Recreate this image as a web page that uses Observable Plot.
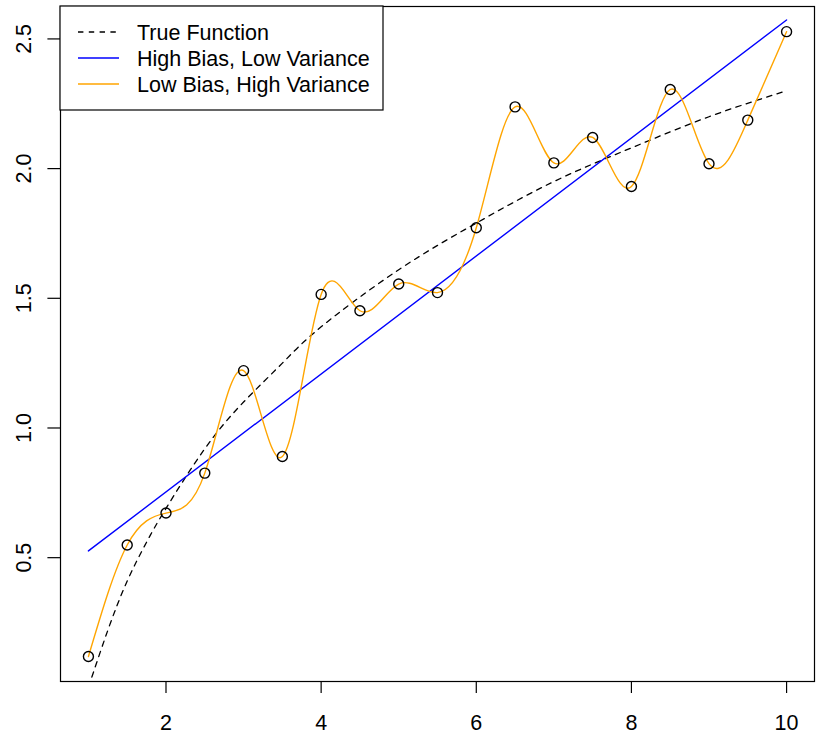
<!DOCTYPE html>
<html>
<head>
<meta charset="utf-8">
<script src="https://cdn.jsdelivr.net/npm/d3@7"></script>
<script src="https://cdn.jsdelivr.net/npm/@observablehq/plot@0.6"></script>
<style>
  html, body { margin: 0; padding: 0; background: #fff; }
  #chart svg { display: block; }
</style>
</head>
<body>
<div id="chart"></div>
<script>
// Observed points
const pointX = [1, 1.5, 2, 2.5, 3, 3.5, 4, 4.5, 5, 5.5, 6, 6.5, 7, 7.5, 8, 8.5, 9, 9.5, 10];
const pointY = [0.119, 0.549, 0.672, 0.826, 1.221, 0.890, 1.515, 1.452, 1.555, 1.522, 1.772, 2.238, 2.022, 2.120, 1.931, 2.305, 2.019, 2.187, 2.528];

// True function (dashed)
const trueX = [1, 1.25, 1.5, 1.75, 2, 2.5, 3, 3.5, 4, 5, 6, 7, 8, 9, 10];
const trueY = [0.00, 0.22, 0.41, 0.56, 0.69, 0.92, 1.10, 1.25, 1.39, 1.61, 1.79, 1.95, 2.08, 2.20, 2.30];

// High bias, low variance (straight line)
const linX = [1, 10];
const linY = [0.526, 2.573];

const xTicks = [2, 4, 6, 8, 10];
const yTicks = [0.5, 1.0, 1.5, 2.0, 2.5];

const legendLabels = ["True Function", "High Bias, Low Variance", "Low Bias, High Variance"];
const legendColors = ["black", "blue", "orange"];
const legendDash = ["5.4,5.4", null, null];

const points = pointX.map((x, i) => ({x, y: pointY[i]}));
const truth = trueX.map((x, i) => ({x, y: trueY[i]}));
const lin = linX.map((x, i) => ({x, y: linY[i]}));

const font = "'Liberation Sans', Arial, Helvetica, sans-serif";

const chart = Plot.plot({
  width: 817,
  height: 740,
  marginLeft: 60,
  marginRight: 3,
  marginTop: 6,
  marginBottom: 59,
  style: {fontFamily: font, fontSize: "21.5px", color: "black", background: "white"},
  x: {domain: [0.64, 10.36]},
  y: {domain: [0.0226, 2.625]},
  marks: [
    Plot.line(truth, {x: "x", y: "y", curve: "natural", stroke: "black", strokeWidth: 1.3, strokeDasharray: "5.4,5.4", clip: true}),
    Plot.line(lin, {x: "x", y: "y", stroke: "blue", strokeWidth: 1.4}),
    Plot.line(points, {x: "x", y: "y", curve: "natural", stroke: "orange", strokeWidth: 1.4}),
    Plot.dot(points, {x: "x", y: "y", r: 5, stroke: "black", strokeWidth: 1.4, fill: "none"}),
    Plot.axisX({ticks: xTicks, tickSize: 12, tickPadding: 21, tickFormat: d => String(d), label: null, stroke: "black", strokeWidth: 1.2}),
    Plot.axisY({ticks: yTicks, tickSize: 12.6, tickPadding: 24, tickRotate: -90, textAnchor: "middle", lineAnchor: "middle", tickFormat: d3.format(".1f"), label: null, stroke: "black", strokeWidth: 1.2}),
    Plot.frame({stroke: "black", strokeWidth: 1.2})
  ]
});

document.getElementById("chart").appendChild(chart);

// Legend box (top-left, inside the plot region, like R's legend("topleft"))
const svg = d3.select(chart);
const lg = svg.append("g").attr("font-family", font).attr("font-size", "21.5px");
lg.append("rect")
  .attr("x", 60).attr("y", 6).attr("width", 323).attr("height", 104)
  .attr("fill", "white").attr("stroke", "black").attr("stroke-width", 1.2);
legendLabels.forEach((lab, i) => {
  const cy = 32 + i * 26;
  lg.append("line")
    .attr("x1", 78).attr("x2", 119).attr("y1", cy).attr("y2", cy)
    .attr("stroke", legendColors[i]).attr("stroke-width", 1.4)
    .attr("stroke-dasharray", legendDash[i]);
  lg.append("text")
    .attr("x", 137).attr("y", cy).attr("dy", "0.36em")
    .attr("text-anchor", "start")
    .attr("fill", "black").text(lab);
});
</script>
</body>
</html>
